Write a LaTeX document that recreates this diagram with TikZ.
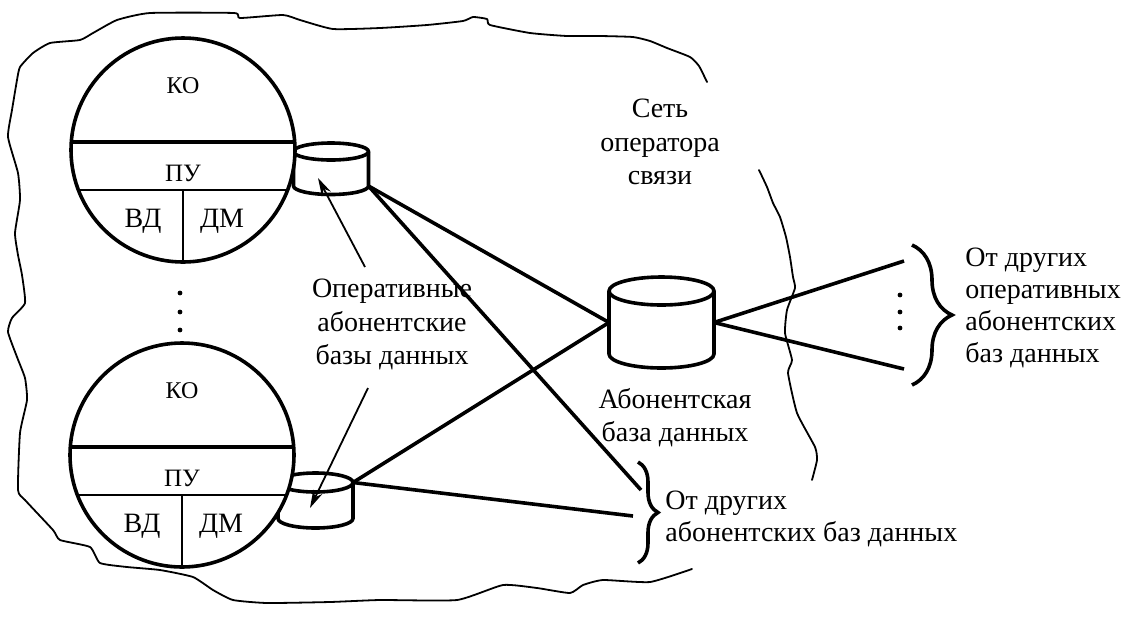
\documentclass[tikz,border=0pt]{standalone}
\usepackage{fontspec}
\setmainfont{Liberation Serif}
\usetikzlibrary{arrows.meta,calc,decorations.pathreplacing}

\tikzset{
  heavy/.style={line width=1.8pt},
  medium/.style={line width=1.1pt},
  outline/.style={line width=0.9pt, line join=round, line cap=round},
  link/.style={line width=1.8pt},
  pointer/.style={line width=0.9pt, -{Stealth[length=9pt,width=5pt]}},
  label/.style={font=\fontsize{14}{16.75}\selectfont, inner sep=0pt, align=center},
  llabel/.style={font=\fontsize{14}{16}\selectfont, inner sep=0pt, align=left},
  cellsmall/.style={font=\fontsize{12}{14}\selectfont, inner sep=0pt, anchor=base},
  cellmid/.style={font=\fontsize{12.5}{14}\selectfont, inner sep=0pt, anchor=base},
  cellbig/.style={font=\fontsize{14}{16}\selectfont, inner sep=0pt, anchor=base},
  station/.style={draw, circle, heavy, fill=white, minimum size=112pt, outer sep=0pt, inner sep=0pt},
  bracket/.style={line width=1.8pt, decorate},
  dotmark/.style={fill=black},
  % database cylinder: #1 half width, #2 ellipse half height, #3 body height
  pics/dbcyl/.style n args={3}{code={
    \draw[heavy, fill=white, line join=round]
      (-#1,0) -- (-#1,#3)
      arc[start angle=180, end angle=0, x radius=#1, y radius=#2]
      -- (#1,0)
      arc[start angle=0, end angle=-180, x radius=#1, y radius=#2] -- cycle;
    \draw[heavy] (-#1,0) arc[start angle=180, end angle=0, x radius=#1, y radius=#2];
    \coordinate (-ne) at (#1,0);
    \coordinate (-se) at (#1,#3);
    \coordinate (-e) at (#1,#3/2);
    \coordinate (-w) at (-#1,#3/2);
  }}
}

\begin{document}
\begin{tikzpicture}[x=0.5pt, y=-0.5pt]
\useasboundingbox (0,0) rectangle (1130,617);

% border of the operator's network
\draw[outline] plot[smooth, tension=0.3] coordinates {
  (707,82) (699,66) (690,57) (667,48) (650,41) (633,37) (600,36) (567,36)
  (530,33) (490,25) (487,19) (473,17) (463,21) (427,25) (380,28) (333,29)
  (300,20) (283,15) (240,18) (234,13) (150,13) (117,20) (93,33) (80,40)
  (50,43) (33,53) (20,67) (17,80) (12,110) (8,137) (18,173) (20,200)
  (15,233) (18,255) (22,275) (25,303) (12,318) (8,332) (17,357) (25,378)
  (27,400) (20,433) (18,490) (25,500) (53,530) (60,540) (90,547) (100,563)
  (127,567) (160,570) (193,577) (213,590) (233,600) (267,603) (330,602)
  (380,600) (457,600) (503,585) (537,588) (570,593) (583,585) (603,580)
  (650,582) (692,569)};
\draw[outline] plot[smooth, tension=0.3] coordinates {
  (759,170) (767,187) (773,203) (780,217) (786,237) (790,257) (793,277)
  (795,288) (787,310) (785,333) (792,360) (788,373) (797,413) (815,447)
  (817,460) (812,480)};

% operative subscriber databases
\pic (dbA) at (331,151.5) {dbcyl={37.5}{8.5}{34.5}};
\pic (dbB) at (315.5,482.5) {dbcyl={37.5}{9.5}{36}};

% switching stations
\node[station] (stA) at (183,150) {};
\node[station] (stB) at (182,455) {};

\foreach \s in {stA,stB}{
  \draw[heavy] ($(\s.center)+(-111.7,-8)$) -- ($(\s.center)+(111.7,-8)$);
  \draw[medium] ($(\s.center)+(-104.6,40)$) -- ($(\s.center)+(104.6,40)$);
  \draw[medium] (\s.south) -- ($(\s.center)+(0,40)$);
}

\node[cellsmall] (koA) at ($(stA.center)+(0,-56.5)$) {КО};
\node[cellmid] (puA) at ($(stA.center)+(0,31)$) {ПУ};
\node[cellbig] (vdA) at ($(stA.center)+(-40,77)$) {ВД};
\node[cellbig] (dmA) at ($(stA.center)+(39,77)$) {ДМ};
\node[cellsmall] (koB) at ($(stB.center)+(0,-56.5)$) {КО};
\node[cellmid] (puB) at ($(stB.center)+(0,31)$) {ПУ};
\node[cellbig] (vdB) at ($(stB.center)+(-40,77)$) {ВД};
\node[cellbig] (dmB) at ($(stB.center)+(39,77)$) {ДМ};

% vertical ellipsis between the stations
\fill[dotmark] (180,293) circle[radius=2.4];
\fill[dotmark] (180,312) circle[radius=2.4];
\fill[dotmark] (180,330) circle[radius=2.4];

% main subscriber database
\pic (db0) at (661.5,291) {dbcyl={52.5}{14}{63}};

% labels
\node[label, anchor=north] (net) at (660,99) {Сеть\\оператора\\связи};
\node[label, anchor=north] (opdb) at (392,279) {Оперативные\\абонентские\\базы данных};
\node[label, anchor=north] (mdb) at (675,388) {Абонентская\\база данных};
\node[llabel, anchor=north west] (othA) at (665,491) {От других\\абонентских баз данных};
\node[llabel, anchor=north west] (othB) at (965,248) {От других\\оперативных\\абонентских\\баз данных};

% free ends of the links
\coordinate (inL1) at (641,490);
\coordinate (inL2) at (633,516);
\coordinate (inR1) at (904,261);
\coordinate (inR2) at (904,369);

% links
\draw[link] (dbA-se) -- (db0-w);
\draw[link] (dbA-se) -- (inL1);
\draw[link] (dbB-ne) -- (db0-w);
\draw[link] (dbB-ne) -- (inL2);
\draw[link] (db0-e) -- (inR1);
\draw[link] (db0-e) -- (inR2);

\fill[dotmark] (900,295) circle[radius=2.4];
\fill[dotmark] (900,312) circle[radius=2.4];
\fill[dotmark] (900,328) circle[radius=2.4];

% pointers from the label to the operative databases
\coordinate (tailA) at (365,267);
\coordinate (tipA) at (318,178);
\coordinate (tailB) at (368,388);
\coordinate (tipB) at (310,508);
\draw[pointer] (tailA) -- (tipA);
\draw[pointer] (tailB) -- (tipB);

% braces
\coordinate (brR-t) at (912,245);
\coordinate (brR-b) at (912,385);
\coordinate (brL-t) at (638,462);
\coordinate (brL-b) at (638,563);
\draw[bracket, decoration={brace, amplitude=20pt}] (brR-t) -- (brR-b);
\draw[bracket, decoration={brace, amplitude=10pt}] (brL-t) -- (brL-b);

\end{tikzpicture}
\end{document}
